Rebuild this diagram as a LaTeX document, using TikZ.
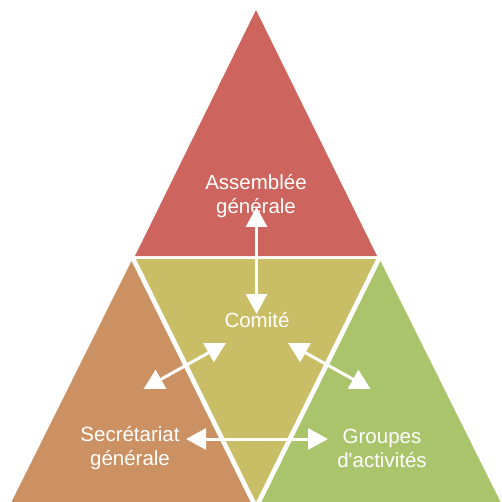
\documentclass[tikz,border=0pt]{standalone}
\usepackage{fontspec}
\setmainfont{Liberation Sans}
\usepackage{xcolor}
\usetikzlibrary{arrows.meta}

\definecolor{agred}{RGB}{205,101,94}
\definecolor{coyellow}{RGB}{201,190,101}
\definecolor{sgorange}{RGB}{204,145,98}
\definecolor{gagreen}{RGB}{169,196,107}

\begin{document}
\begin{tikzpicture}[x=1pt,y=-1pt,
 label/.style={text=white,align=center,font=\fontsize{20.5}{24}\selectfont},
 link/.style={white,line width=3pt,
  {Triangle[length=20pt,width=21pt]}-{Triangle[length=20pt,width=21pt]}}]
\useasboundingbox (0,0) rectangle (501,502);

% the four parts of the pyramid
\fill[agred] (256,10) -- (135,256) -- (377,256) -- cycle;
\fill[coyellow] (136,259) -- (376,259) -- (256,502) -- cycle;
\fill[sgorange] (131.5,261) -- (11.5,502) -- (250.5,502) -- cycle;
\fill[gagreen] (380.5,261) -- (261.5,502) -- (500.5,502) -- cycle;

\node[label] (ag) at (256,196) {Assemblée\\générale};
\node[label] (comite) at (257,320) {Comité};
\node[label] (sg) at (130,448) {Secrétariat\\générale};
\node[label] (ga) at (382,448) {Groupes\\d\textquotesingle activités};

% arrow ends
\coordinate (agEnd) at (256.5,207);
\coordinate (coTop) at (256.5,314);
\coordinate (coLeft) at (226,343);
\coordinate (sgEnd) at (143.5,389);
\coordinate (coRight) at (288,343);
\coordinate (gaEnd) at (370.5,389);
\coordinate (sgRight) at (186,439);
\coordinate (gaLeft) at (328,439);

\draw[link] (agEnd) -- (coTop);
\draw[link] (coLeft) -- (sgEnd);
\draw[link] (coRight) -- (gaEnd);
\draw[link] (sgRight) -- (gaLeft);
\end{tikzpicture}
\end{document}
